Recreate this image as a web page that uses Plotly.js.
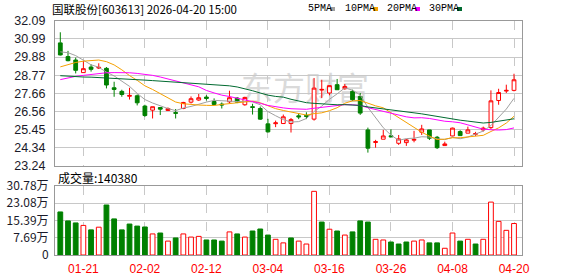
<!DOCTYPE html>
<html><head><meta charset="utf-8">
<script src="https://cdn.plot.ly/plotly-3.0.1.min.js"></script>
<style>html,body{margin:0;padding:0;background:#fff;}#chart{width:578px;height:276px;}</style>
</head><body><div id="chart"></div>
<script>
const dates = ['01-16','01-19','01-20','01-21','01-22','01-23','01-26','01-27','01-28','01-29','01-30',
 '02-02','02-03','02-04','02-05','02-06','02-09','02-10','02-11','02-12','02-13','02-24','02-25','02-26','02-27',
 '03-02','03-03','03-04','03-05','03-06','03-09','03-10','03-11','03-12','03-13','03-16','03-17','03-18','03-19','03-20',
 '03-23','03-24','03-25','03-26','03-27','03-30','03-31','04-01','04-02','04-03','04-07','04-08','04-09','04-10',
 '04-13','04-14','04-15','04-16','04-17','04-20'];
const open  = [30.75,29.91,29.70,28.93,29.27,29.21,29.19,28.00,27.78,27.48,27.51,26.88,26.63,26.79,26.61,26.48,26.73,27.12,27.25,27.43,
 27.16,27.00,27.14,27.37,26.96,26.84,26.73,25.79,25.80,25.81,25.81,26.28,26.30,26.08,27.86,27.68,28.19,27.94,27.78,27.47,
 25.42,24.65,24.85,25.06,24.60,24.64,24.79,25.28,25.42,24.97,24.46,25.05,25.32,25.22,25.15,25.42,25.56,27.22,27.80,27.84];
const high  = [31.40,30.26,29.85,29.64,29.44,29.50,29.27,28.37,27.88,28.00,27.59,26.96,26.84,26.80,26.80,26.70,27.14,27.47,27.62,27.55,
 27.35,27.10,27.82,27.43,27.45,27.02,26.85,26.10,25.99,26.36,26.15,26.45,26.50,28.60,28.49,28.15,28.54,28.23,27.88,27.68,
 25.56,24.81,25.42,25.46,25.11,24.87,25.36,25.73,25.42,25.05,24.70,25.56,25.40,25.62,25.30,25.62,27.84,27.94,28.19,28.86];
const low   = [29.98,29.62,28.88,28.91,28.99,29.15,27.96,27.45,27.45,27.28,26.92,26.22,26.12,26.33,26.59,26.12,26.69,27.04,27.20,27.22,
 26.94,26.73,27.04,27.06,26.90,26.36,26.04,25.26,25.59,25.79,25.26,26.08,26.08,25.99,27.37,27.54,27.88,27.88,27.20,26.34,
 24.03,24.33,24.85,24.98,24.50,24.44,24.66,25.11,24.80,24.25,24.46,25.05,25.05,25.22,25.05,25.32,25.48,26.96,27.68,27.78];
const close = [30.01,29.66,29.07,29.17,29.13,29.25,28.17,27.90,27.59,27.53,27.08,26.30,26.84,26.69,26.73,26.44,27.10,27.33,27.39,27.35,
 26.98,26.95,27.39,27.12,27.41,26.80,26.08,25.30,25.85,26.22,26.05,26.22,26.25,27.98,27.90,28.13,27.88,28.08,27.27,26.45,
 24.30,24.70,25.05,25.00,24.87,24.81,24.84,25.48,24.91,24.33,24.56,25.53,25.07,25.42,25.20,25.53,27.20,27.71,27.84,28.49];
const prevClose = 31.00;
// volume in 万 (10k) units
const volume = [19.2,15.2,14.3,13.2,11.2,12.4,22.3,16.1,11.2,13.8,12.9,12.5,9.4,9.8,6.2,7.6,9.4,8.0,8.3,6.7,
 6.7,6.2,10.3,9.4,8.0,10.7,11.6,8.9,7.0,5.4,7.6,6.2,4.9,28.4,14.7,11.5,10.7,8.9,10.3,15.2,
 14.7,7.0,6.7,5.8,4.9,5.8,6.2,6.7,5.4,5.4,3.0,9.8,6.2,7.0,4.9,7.0,23.6,15.0,11.0,14.038];
// moving-average values before a full window is available inside the shown range
const ma5Head  = [30.20,30.15,29.97,29.68];
const ma10Head = [29.28,29.42,29.55,29.63,29.68,29.70,29.60,29.40,29.10];
const ma20Head = [28.50,28.62,28.70,28.76,28.82,28.88,28.92,28.93,28.93,28.92,28.88,28.83,28.76,28.66,28.53,28.40,28.28,28.18,28.06];
const ma30Head = [28.74,28.70,28.67,28.66,28.65,28.63,28.61,28.58,28.56,28.53,28.50,28.47,28.44,28.41,28.38,28.35,28.30,28.27,28.24,
 28.21,28.18,28.15,28.12,28.05,27.95,27.82,27.68,27.55,27.47];
const priceTicks = [23.24,24.34,25.45,26.56,27.66,28.77,29.88,30.99,32.09];
const volTicks = [0,7.69,15.39,23.08,30.78];
const volTickText = ['0','7.69万','15.39万','23.08万','30.78万'];
const labelDates = ['01-21','02-02','02-12','03-04','03-16','03-26','04-08','04-20'];
const title = '国联股份[603613] 2026-04-20 15:00';
const volTitle = '成交量:140380';
const maNames = ['5PMA','10PMA','20PMA','30PMA'];

function ma(n, head){
  return close.map((c,i)=>{
    if(i < n-1) return head[i];
    let s=0; for(let k=i-n+1;k<=i;k++) s+=close[k];
    return s/n;
  });
}
const maColors = ['#a0a0a0','#f5a000','#ff00ff','#006a30'];
const maData = [ma(5,ma5Head), ma(10,ma10Head), ma(20,ma20Head), ma(30,ma30Head)];

const RED='#ff0000', GREEN='#008000';
const up = close.map((c,i)=> c > (i===0?prevClose:close[i-1]));

const traces = [];
traces.push({type:'candlestick', x:dates, open, high, low, close, xaxis:'x', yaxis:'y',
  increasing:{line:{color:RED,width:1}, fillcolor:'#ffffff'},
  decreasing:{line:{color:GREEN,width:1}, fillcolor:GREEN},
  whiskerwidth:0, hoverinfo:'none'});
maData.forEach((d,k)=>traces.push({type:'scatter', mode:'lines', x:dates, y:d, xaxis:'x', yaxis:'y',
  line:{color:maColors[k], width:1}, hoverinfo:'none'}));
traces.push({type:'bar', x:dates, y:volume, xaxis:'x2', yaxis:'y2', width:0.62,
  marker:{color:up.map(u=>u?'#ffffff':GREEN), line:{color:up.map(u=>u?RED:GREEN), width:1}}, hoverinfo:'none'});

const L=55, R=522, T=21, B=255;
const W=R-L, H=B-T;
const px=x=>(x-L)/W, py=y=>(B-y)/H;

const xr=[-0.69,60.04];
const axX = {type:'category', range:xr, tickvals:labelDates, ticktext:labelDates, showgrid:true, gridcolor:'#c8c8c8',
  griddash:'dash', gridwidth:1, showline:true, mirror:true, linecolor:'#999', linewidth:1, ticks:'', zeroline:false, fixedrange:true};
const annFont = {family:'Noto Sans CJK SC', size:11.5, color:'#000'};
const annotations = [
  {xref:'paper',yref:'paper',x:px(50),y:py(9),xanchor:'left',yanchor:'middle',text:title,showarrow:false,font:annFont},
  {xref:'paper',yref:'paper',x:px(56),y:py(177.5),xanchor:'left',yanchor:'middle',text:volTitle,showarrow:false,font:{family:'Noto Sans CJK SC',size:12,color:'#000'}},
];
const legX=[306,343,385,427], sqX=[330,373,415,457];
const shapes = [];
maNames.forEach((n,k)=>{
  annotations.push({xref:'paper',yref:'paper',x:px(legX[k]),y:py(9),xanchor:'left',yanchor:'middle',text:n,showarrow:false,
    font:{family:'Liberation Mono',size:10,color:'#000'}});
  shapes.push({type:'rect',xref:'paper',yref:'paper',x0:px(sqX[k]),x1:px(sqX[k]+5),y0:py(11),y1:py(7),line:{width:0},fillcolor:maColors[k]});
});
shapes.push({type:'rect',xref:'paper',yref:'paper',layer:'below',x0:px(225),x1:px(385),y0:py(108),y1:py(74),
  line:{width:0},fillcolor:'rgba(0,0,0,0)',
  label:{text:'东方财富',font:{family:'Noto Sans CJK SC',size:32,color:'#dadada'},textposition:'middle center'}});

const layout = {
  width:578, height:276, margin:{l:L,r:578-R,t:T,b:276-B,pad:0}, paper_bgcolor:'#fff', plot_bgcolor:'#fff',
  showlegend:false, dragmode:false,
  xaxis:Object.assign({}, axX, {anchor:'y', showticklabels:false, rangeslider:{visible:false}}),
  xaxis2:Object.assign({}, axX, {anchor:'y2', showticklabels:true, tickfont:{family:'Liberation Sans',size:12,color:RED}, ticklabelstandoff:3}),
  yaxis:{domain:[py(165.5),1], range:[23.24,32.09], tickvals:priceTicks, ticktext:priceTicks.map(v=>v.toFixed(2)),
    showgrid:true, gridcolor:'#c8c8c8', gridwidth:1, showline:true, mirror:true, linecolor:'#999', linewidth:1, ticks:'', zeroline:false,
    tickfont:{family:'Liberation Sans',size:12.5,color:'#1a1a2a'}, ticklabelstandoff:6, fixedrange:true},
  yaxis2:{domain:[0,py(186)], range:[0,30.78], tickvals:volTicks, ticktext:volTickText,
    showgrid:true, gridcolor:'#c8c8c8', gridwidth:1, showline:true, mirror:true, linecolor:'#999', linewidth:1, ticks:'', zeroline:false,
    tickfont:{family:'Noto Sans CJK SC',size:12,color:'#1a1a2a'}, ticklabelstandoff:3, fixedrange:true},
  annotations, shapes
};
Plotly.newPlot('chart', traces, layout, {staticPlot:true, displayModeBar:false});
</script></body></html>
